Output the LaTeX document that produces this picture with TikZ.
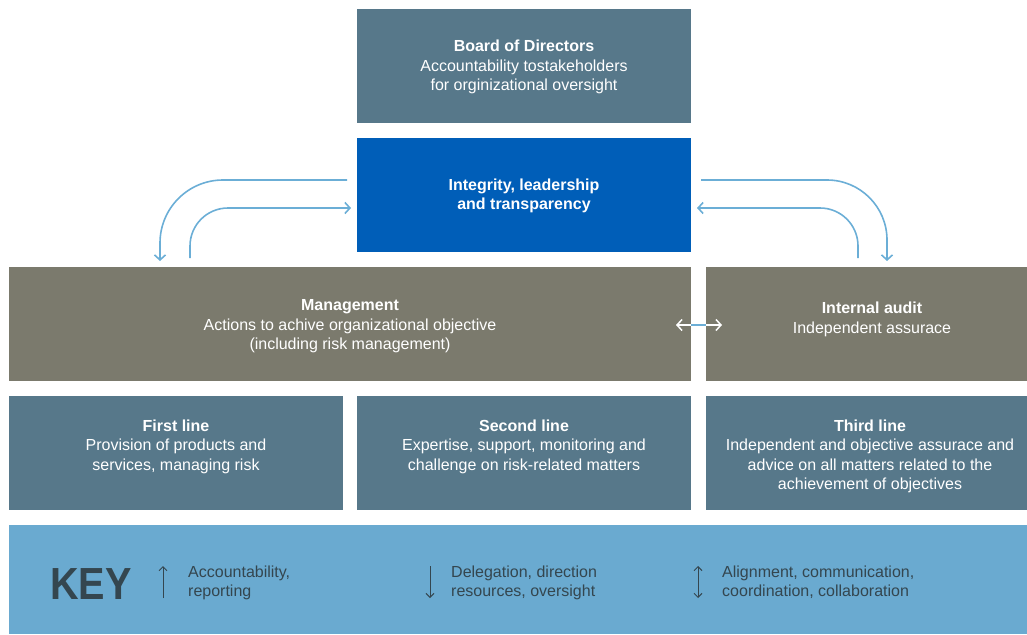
\documentclass[tikz,border=0pt]{standalone}
\usepackage{fontspec}
\setmainfont{Liberation Sans}
\usetikzlibrary{arrows.meta}
\definecolor{slate}{HTML}{57788A}
\definecolor{royal}{HTML}{005EB8}
\definecolor{olive}{HTML}{7B7A6D}
\definecolor{keyblue}{HTML}{6AAAD0}
\definecolor{arrowblue}{HTML}{6BAED6}
\definecolor{keytext}{HTML}{34464F}
\begin{document}
\begin{tikzpicture}[x=1pt,y=-1pt,
  box/.style={draw=none, inner sep=0pt, anchor=north west},
  txt/.style={text=white, align=center, inner sep=0pt, font=\fontsize{16}{19.5}\selectfont},
  flow/.style={draw=arrowblue, line width=1.6pt, -{Straight Barb[length=5pt,width=11pt,line width=1.6pt]}},
  keyarr/.style={draw=keytext, line width=1pt},
  keytxt/.style={text=keytext, align=left, inner sep=0pt, anchor=north west, font=\fontsize{16}{19}\selectfont}]
\useasboundingbox (0,0) rectangle (1027,634);
% boxes
\node[box, fill=slate, minimum width=334pt, minimum height=114pt] (board) at (357,9) {};
\node[box, fill=royal, minimum width=334pt, minimum height=114pt] (integ) at (357,138) {};
\node[box, fill=olive, minimum width=682pt, minimum height=114pt] (mgmt) at (9,267) {};
\node[box, fill=olive, minimum width=321pt, minimum height=114pt] (audit) at (706,267) {};
\node[box, fill=slate, minimum width=334pt, minimum height=114pt] (first) at (9,396) {};
\node[box, fill=slate, minimum width=334pt, minimum height=114pt] (second) at (357,396) {};
\node[box, fill=slate, minimum width=321pt, minimum height=114pt] (third) at (706,396) {};
\node[box, fill=keyblue, minimum width=1018pt, minimum height=109pt] (key) at (9,525) {};
% texts
\node[txt] (boardt) at (524,67) {\textbf{Board of Directors}\\Accountability tostakeholders\\for orginizational oversight};
\node[txt] (integt) at (524,196) {\textbf{Integrity, leadership}\\\textbf{and transparency}};
\node[txt] (mgmtt) at (350,326.5) {\textbf{Management}\\Actions to achive organizational objective\\(including risk management)};
\node[txt] (auditt) at (872,319.5) {\textbf{Internal audit}\\Independent assurace};
\node[txt, anchor=north] (firstt) at (176,419.5) {\textbf{First line}\\Provision of products and\\services, managing risk};
\node[txt, anchor=north] (secondt) at (524,419.5) {\textbf{Second line}\\Expertise, support, monitoring and\\challenge on risk-related matters};
\node[txt, anchor=north] (thirdt) at (870,419.5) {\textbf{Third line}\\Independent and objective assurace and\\advice on all matters related to the\\achievement of objectives};
% curved arrows
\coordinate (lo1) at (347,180); \coordinate (lo2) at (160,180); \coordinate (lo3) at (160,261);
\coordinate (li1) at (190,258); \coordinate (li2) at (190,208); \coordinate (li3) at (351,208);
\coordinate (ro1) at (701,180); \coordinate (ro2) at (887,180); \coordinate (ro3) at (887,261);
\coordinate (ri1) at (858,258); \coordinate (ri2) at (858,208); \coordinate (ri3) at (697,208);
\draw[flow, rounded corners=63pt] (lo1) -- (lo2) -- (lo3);
\draw[flow, rounded corners=38pt] (li1) -- (li2) -- (li3);
\draw[flow, rounded corners=60pt] (ro1) -- (ro2) -- (ro3);
\draw[flow, rounded corners=38pt] (ri1) -- (ri2) -- (ri3);
% double arrow between management and audit
\coordinate (da1) at (676,325); \coordinate (da2) at (722,325);
\draw[white, line width=1.5pt, {Straight Barb[length=5pt,width=11pt,line width=1.5pt]}-{Straight Barb[length=5pt,width=11pt,line width=1.5pt]}] (da1) -- (da2);
\draw[arrowblue, line width=2pt] (mgmt.east |- da1) -- (audit.west |- da1);
% key
\node[text=keytext, inner sep=0pt, anchor=west, font=\fontsize{45}{45}\bfseries\selectfont] (keyw) at (50,584) {\scalebox{0.88}[1]{KEY}};
\coordinate (k1a) at (163,598); \coordinate (k1b) at (163,566);
\coordinate (k2a) at (430,566); \coordinate (k2b) at (430,598);
\coordinate (k3a) at (698,566); \coordinate (k3b) at (698,598);
\draw[keyarr, -{Straight Barb[length=4pt,width=8pt,line width=1pt]}] (k1a) -- (k1b);
\draw[keyarr, -{Straight Barb[length=4pt,width=8pt,line width=1pt]}] (k2a) -- (k2b);
\draw[keyarr, {Straight Barb[length=4pt,width=8pt,line width=1pt]}-{Straight Barb[length=4pt,width=8pt,line width=1pt]}] (k3a) -- (k3b);
\node[keytxt] (k1t) at (188,566) {Accountability,\\reporting};
\node[keytxt] (k2t) at (451,566) {Delegation, direction\\resources, oversight};
\node[keytxt] (k3t) at (722,566) {Alignment, communication,\\coordination, collaboration};
\end{tikzpicture}
\end{document}
